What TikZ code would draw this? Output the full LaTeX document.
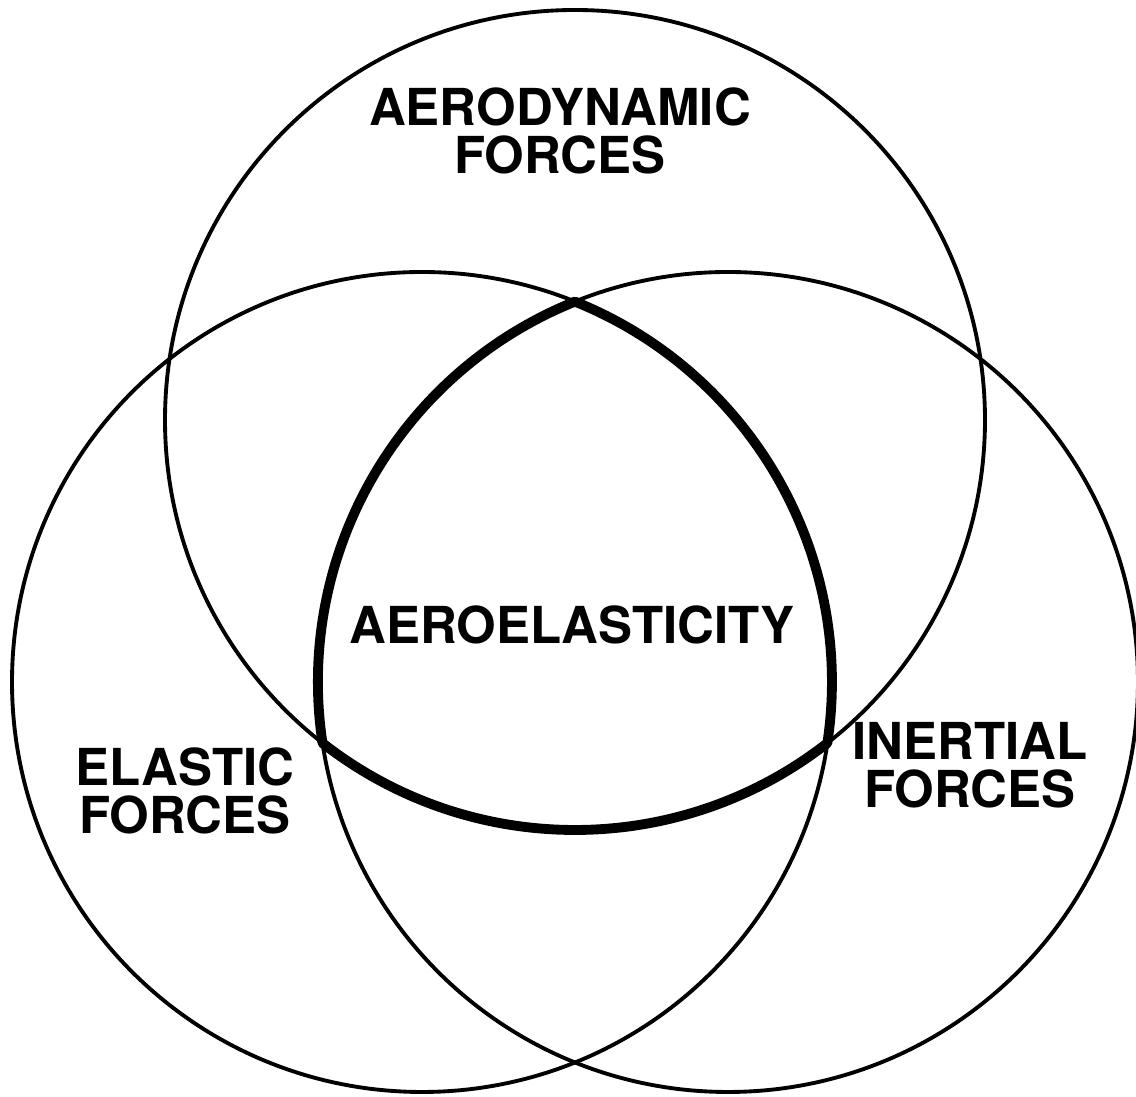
\documentclass[tikz,border=0pt]{standalone}
\usepackage{fontspec}
\setmainfont{TeX Gyre Heros}
\begin{document}
\begin{tikzpicture}[forcetext/.style={font=\fontsize{14.5}{13.6}\selectfont\bfseries, align=center, inner sep=0pt},
  forcecircle/.style={draw, circle, minimum size=8.2cm, inner sep=0pt, line width=1.1pt},
  core/.style={line width=2.8pt, line join=round}]
\useasboundingbox (0,0) rectangle (11.36,10.97);
\node[forcecircle] (aerocirc) at (5.75,6.77) {};
\node[forcecircle] (elascirc) at (4.22,4.15) {};
\node[forcecircle] (inercirc) at (7.28,4.15) {};
\node[forcetext] (aero) at (5.6,9.66) {AERODYNAMIC\\FORCES};
\node[forcetext] (elas) at (1.85,3.06) {ELASTIC\\FORCES};
\node[forcetext] (iner) at (9.7,3.32) {INERTIAL\\FORCES};
\node[forcetext] (aeroel) at (5.72,4.72) {AEROELASTICITY};
\coordinate (apex) at (5.75,7.954);
\draw[core] (apex) arc[start angle=111.9, end angle=188.57, radius=4.1]
  arc[start angle=232.0, end angle=308.0, radius=4.1]
  arc[start angle=-8.57, end angle=68.09, radius=4.1] -- cycle;
\end{tikzpicture}
\end{document}
